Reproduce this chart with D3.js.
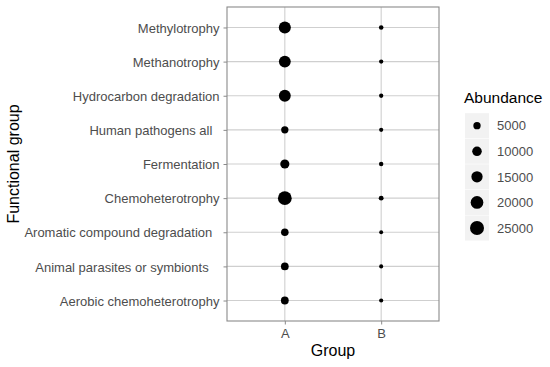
<!DOCTYPE html>
<html>
<head>
<meta charset="utf-8">
<script src="https://cdn.jsdelivr.net/npm/d3@7"></script>
<style>
  html, body { margin: 0; padding: 0; background: #fff; }
  text { font-family: "Liberation Sans", Arial, sans-serif; }
</style>
</head>
<body>
<svg id="chart" width="550" height="367"></svg>
<script>
// ---- data ----
const categories = [
  "Aerobic chemoheterotrophy",
  "Animal parasites or symbionts   ",
  "Aromatic compound degradation  ",
  "Chemoheterotrophy",
  "Fermentation",
  "Human pathogens all  ",
  "Hydrocarbon degradation",
  "Methanotrophy",
  "Methylotrophy"
];
const groups = ["A", "B"];
const valuesA = [6000, 5800, 5500, 24000, 9000, 5000, 17000, 17000, 17500];
const valuesB = [900, 800, 700, 1500, 1100, 900, 1000, 1000, 1200];
const legendBreaks = [5000, 10000, 15000, 20000, 25000];
const legendLabels = ["5000", "10000", "15000", "20000", "25000"];

// ---- layout ----
const svg = d3.select("#chart");
const panel = { left: 227, right: 439, top: 7, bottom: 321 };

const x = d3.scalePoint().domain(groups)
  .range([panel.left, panel.right]).padding(0.6);
const y = d3.scalePoint().domain(categories)
  .range([panel.bottom, panel.top]).padding(0.6);
const r = d3.scaleSqrt().domain([0, 25000]).range([0.94, 7.0]);

const gridColor = "#cfcfcf";
const borderColor = "#8a8a8a";
const textColor = "#4d4d4d";

svg.append("rect").attr("x", 0).attr("y", 0).attr("width", 550).attr("height", 367).attr("fill", "#fff");

// grid lines
const grid = svg.append("g");
grid.selectAll(".gy").data(categories).enter().append("line")
  .attr("x1", panel.left).attr("x2", panel.right)
  .attr("y1", d => y(d)).attr("y2", d => y(d))
  .attr("stroke", gridColor).attr("stroke-width", 1.1);
grid.selectAll(".gx").data(groups).enter().append("line")
  .attr("y1", panel.top).attr("y2", panel.bottom)
  .attr("x1", d => x(d)).attr("x2", d => x(d))
  .attr("stroke", gridColor).attr("stroke-width", 1.1);

// axes
const xAxis = svg.append("g").attr("transform", `translate(0,${panel.bottom})`)
  .call(d3.axisBottom(x).tickSize(3.5).tickPadding(4));
const yAxis = svg.append("g").attr("transform", `translate(${panel.left},0)`)
  .call(d3.axisLeft(y).tickSize(3.5).tickPadding(4));
[xAxis, yAxis].forEach(a => {
  a.select(".domain").remove();
  a.selectAll(".tick line").attr("stroke", borderColor);
  a.selectAll(".tick text").attr("fill", textColor).style("font-size", "13px")
    .style("font-family", "'Liberation Sans', Arial, sans-serif");
});
yAxis.selectAll(".tick text").style("white-space", "pre").attr("dy", "0.36em");
xAxis.selectAll(".tick text").attr("dy", "0.71em");

// panel border
svg.append("rect")
  .attr("x", panel.left).attr("y", panel.top)
  .attr("width", panel.right - panel.left).attr("height", panel.bottom - panel.top)
  .attr("fill", "none").attr("stroke", borderColor).attr("stroke-width", 1.1);

// points
const pts = [];
categories.forEach((c, i) => {
  pts.push({ cat: c, grp: "A", v: valuesA[i] });
  pts.push({ cat: c, grp: "B", v: valuesB[i] });
});
svg.append("g").selectAll("circle").data(pts).enter().append("circle")
  .attr("cx", d => x(d.grp)).attr("cy", d => y(d.cat))
  .attr("r", d => r(d.v)).attr("fill", "#000");

// axis titles
svg.append("text").attr("x", (panel.left + panel.right) / 2).attr("y", 356)
  .attr("text-anchor", "middle").style("font-size", "16px").attr("fill", "#000")
  .text("Group");
svg.append("text")
  .attr("transform", `translate(19,${(panel.top + panel.bottom) / 2}) rotate(-90)`)
  .attr("text-anchor", "middle").style("font-size", "16px").attr("fill", "#000")
  .text("Functional group");

// legend
const lg = svg.append("g");
lg.append("text").attr("x", 464).attr("y", 103).style("font-size", "15.5px")
  .attr("fill", "#000").text("Abundance");
const ly = d3.scalePoint().domain(legendLabels).range([125.7, 228]);
const rows = lg.selectAll(".row").data(legendBreaks).enter().append("g")
  .attr("transform", (d, i) => `translate(0,${ly(legendLabels[i])})`);
rows.append("rect").attr("x", 465).attr("y", -12.5).attr("width", 24).attr("height", 25)
  .attr("fill", "#f2f2f2");
rows.append("circle").attr("cx", 477).attr("cy", 0).attr("r", d => r(d)).attr("fill", "#000");
rows.append("text").attr("x", 497).attr("y", 0).attr("dy", "0.36em")
  .style("font-size", "13px").attr("fill", textColor).text((d, i) => legendLabels[i]);
</script>
</body>
</html>
